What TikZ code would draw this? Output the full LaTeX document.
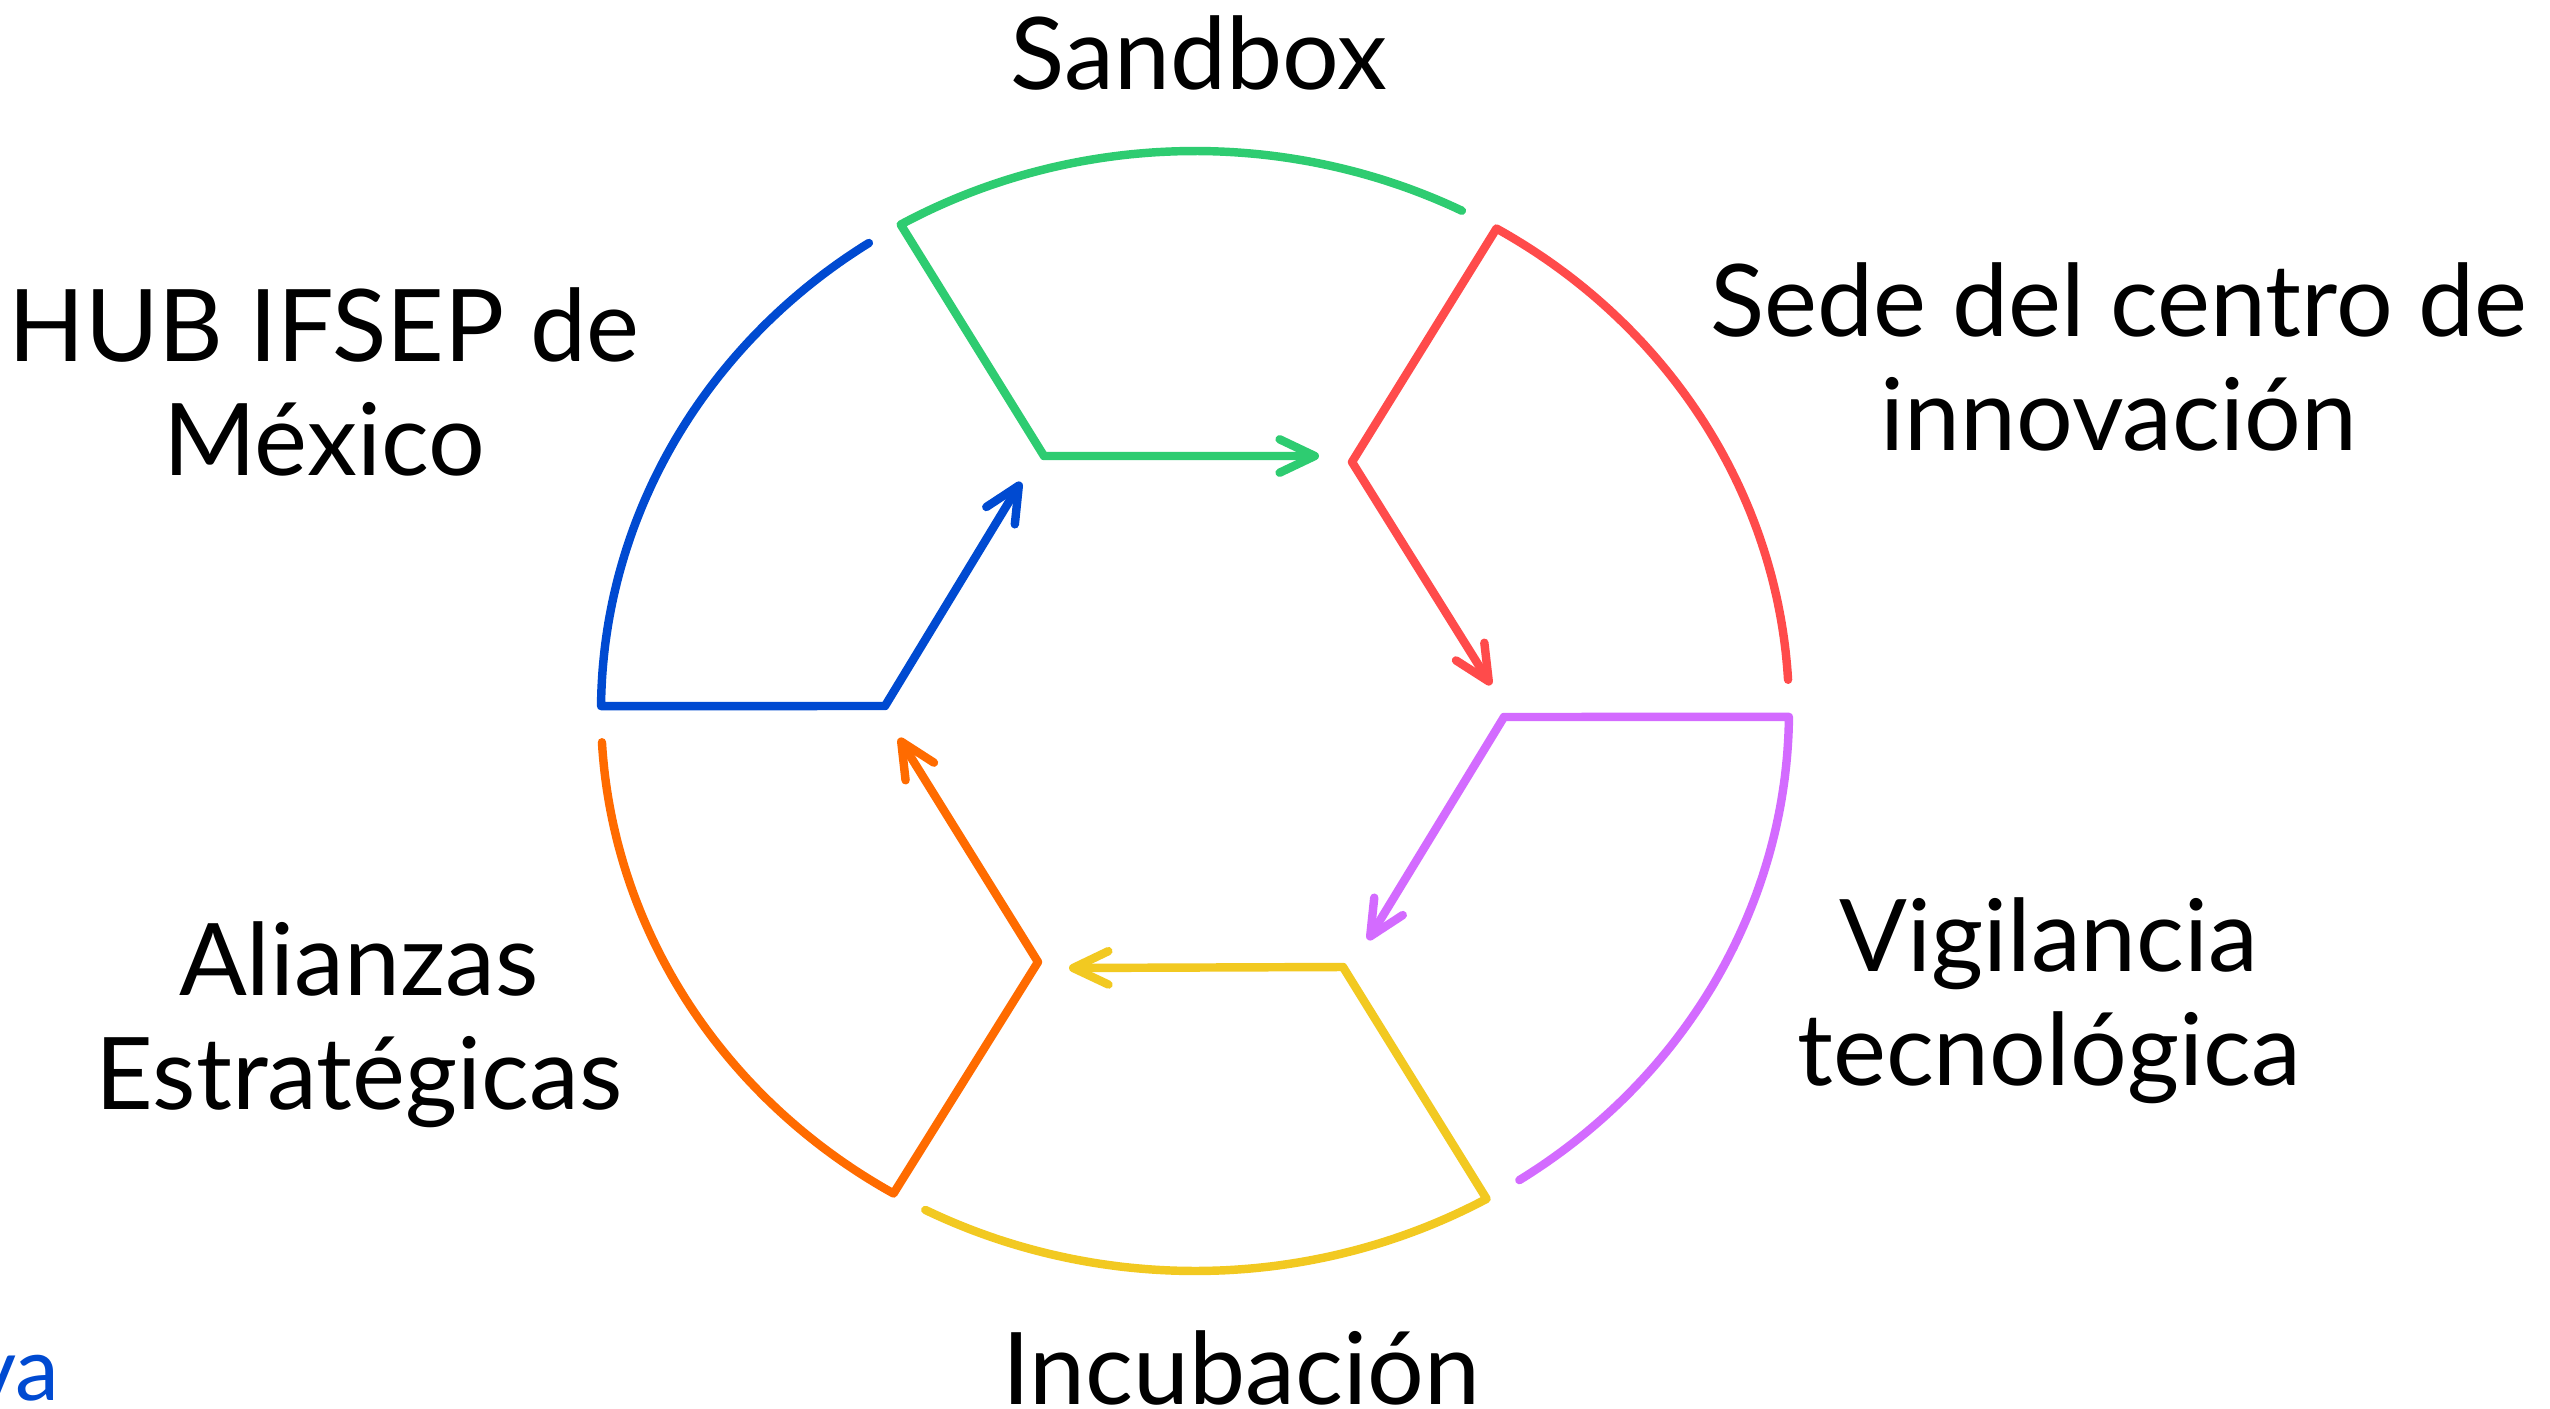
\documentclass[tikz,border=0pt]{standalone}
\usepackage{fontspec}
\setmainfont{Lato}
\usetikzlibrary{arrows.meta,calc}
\definecolor{cgreen}{HTML}{2ECC71}
\definecolor{cred}{HTML}{FF4B4B}
\definecolor{cpurple}{HTML}{D36BFF}
\definecolor{cyellow}{HTML}{F2C921}
\definecolor{corange}{HTML}{FF6B00}
\definecolor{cblue}{HTML}{004AD1}
\begin{document}
\begin{tikzpicture}[x=0.01cm,y=-0.01cm,
  seg/.style={line width=2.4pt, line cap=round, line join=round},
  arr/.style={-{Straight Barb[length=10pt,width=9.5pt,round]}},
  lbl/.style={font=\fontsize{28.5}{32.4}\selectfont, align=center, inner sep=0pt}]
\useasboundingbox (0,0) rectangle (2550,1409);
\clip (0,0) rectangle (2550,1409);
\fill[white] (0,0) rectangle (2550,1409);
% inner corners
\coordinate (iG) at (1044,456);
\coordinate (iR) at (1352,462);
\coordinate (iP) at (1504,717);
\coordinate (iY) at (1343,967);
\coordinate (iO) at (1038,962);
\coordinate (iB) at (885,706);
% arrow ends
\coordinate (aG) at (1319,456);
\coordinate (aR) at (1491,685);
\coordinate (aP) at (1368,940);
\coordinate (aY) at (1069,968);
\coordinate (aO) at (899,738);
\coordinate (aB) at (1021,482);
% segments
\draw[seg,cgreen,arr] plot[domain=63.3:119.7,samples=80] ({1195+594*cos(\x)},{711-560*sin(\x)}) -- (iG) -- (aG);
\draw[seg,cred,arr] plot[domain=3.2:59.5,samples=80] ({1195+594*cos(\x)},{711-560*sin(\x)}) -- (iR) -- (aR);
\draw[seg,cpurple,arr] plot[domain=-56.9:-0.6,samples=80] ({1195+594*cos(\x)},{711-560*sin(\x)}) -- (iP) -- (aP);
\draw[seg,cyellow,arr] plot[domain=-117:-60.6,samples=80] ({1195+594*cos(\x)},{711-560*sin(\x)}) -- (iY) -- (aY);
\draw[seg,corange,arr] plot[domain=-176.8:-120.5,samples=80] ({1195+594*cos(\x)},{711-560*sin(\x)}) -- (iO) -- (aO);
\draw[seg,cblue,arr] plot[domain=123.3:179.5,samples=80] ({1195+594*cos(\x)},{711-560*sin(\x)}) -- (iB) -- (aB);
% labels (base = baseline of last line)
\node[lbl,anchor=base] (sandbox) at (1199,89) {Sandbox};
\node[lbl,anchor=base] (sede) at (2119,450) {Sede del centro de\\innovación};
\node[lbl,anchor=base] (hub) at (324,475) {HUB IFSEP de\\México};
\node[lbl,anchor=base] (vig) at (2049,1085) {Vigilancia\\tecnológica};
\node[lbl,anchor=base] (ali) at (359,1109) {Alianzas\\Estratégicas};
\node[lbl,anchor=base] (inc) at (1241,1404) {Incubación};
\node[font=\fontsize{25}{30}\selectfont,text=cblue,anchor=base east,inner sep=0pt] (va) at (60,1400) {va};
\end{tikzpicture}
\end{document}
